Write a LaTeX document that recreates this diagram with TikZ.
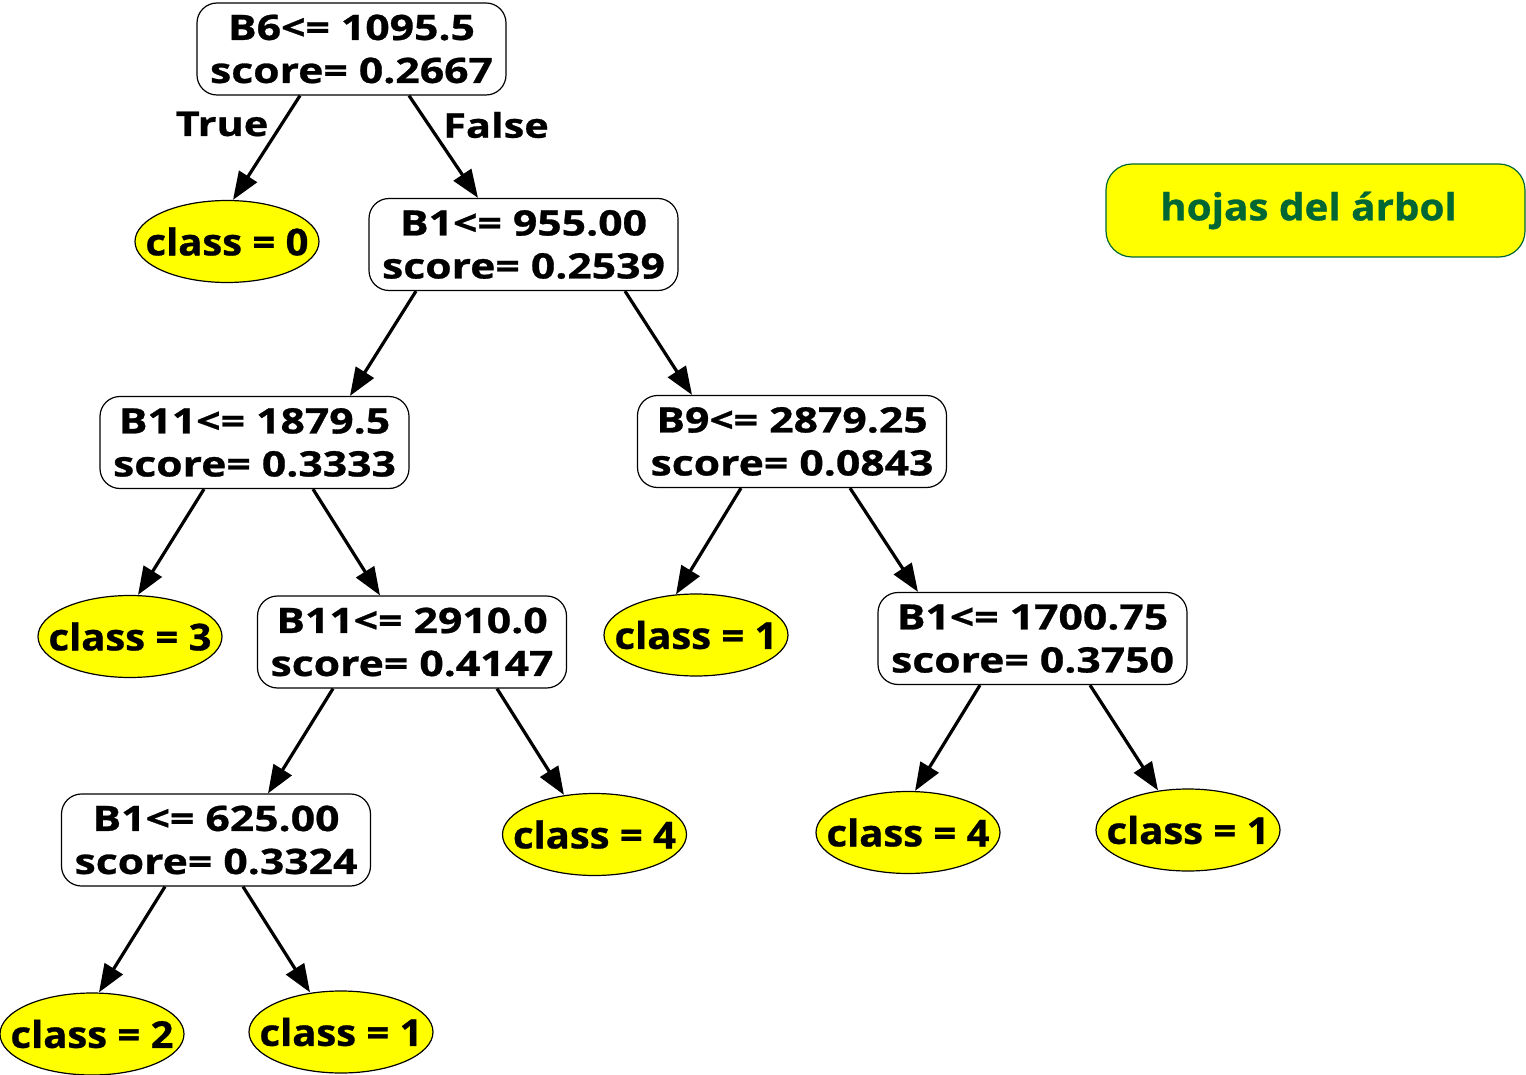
\documentclass[tikz,border=0pt]{standalone}
\usepackage{fontspec}
\usetikzlibrary{shapes.geometric,arrows.meta,calc}
\newfontfamily\boxfont[FakeStretch=1.22,FakeBold=0.8]{Open Sans}
\newfontfamily\ellfont[FakeStretch=1.08,FakeBold=0.8]{Open Sans}
\definecolor{leafyellow}{HTML}{FFFF00}
\definecolor{leafgreen}{HTML}{006633}
\tikzset{
  splitbox/.style={draw=black, line width=0.6pt, rounded corners=10pt, fill=white,
    minimum width=154.5pt, minimum height=46pt, inner sep=0pt, align=center,
    font=\boxfont\bfseries\fontsize{17.5}{21.5}\selectfont},
  leaf/.style={ellipse, draw=black, line width=0.6pt, fill=leafyellow,
    minimum width=92pt, minimum height=41pt, inner sep=0pt,
    font=\ellfont\bfseries\fontsize{18.5}{22}\selectfont},
  legendbox/.style={draw=leafgreen, line width=0.6pt, rounded corners=13pt, fill=leafyellow,
    minimum width=209.5pt, minimum height=46.5pt, inner sep=0pt, text=leafgreen,
    font=\ellfont\bfseries\fontsize{18.7}{22}\selectfont},
  edgelabel/.style={inner sep=0pt, font=\boxfont\bfseries\fontsize{17}{21}\selectfont},
  treeedge/.style={line width=1.6pt, -{Triangle[length=14pt,width=10.5pt]}}
}
\newcommand{\leaftext}[1]{\makebox[0pt][c]{#1}}
\begin{document}
\begin{tikzpicture}[x=0.5pt,y=-0.5pt]
\useasboundingbox (0,0) rectangle (1526,1075);
% decision nodes
\node[splitbox] (root) at (351.5,49)  {B6<= 1095.5\\score= 0.2667};
\node[splitbox] (n1)   at (523.5,244.5) {B1<= 955.00\\score= 0.2539};
\node[splitbox] (n2)   at (254.5,442.5) {B11<= 1879.5\\score= 0.3333};
\node[splitbox] (n3)   at (792,441.5)   {B9<= 2879.25\\score= 0.0843};
\node[splitbox] (n4)   at (412,642)     {B11<= 2910.0\\score= 0.4147};
\node[splitbox] (n5)   at (1032.5,638.5) {B1<= 1700.75\\score= 0.3750};
\node[splitbox] (n6)   at (216,840)     {B1<= 625.00\\score= 0.3324};
% leaves
\node[leaf] (c0)  at (227,241.5) {\leaftext{class = 0}};
\node[leaf] (c3)  at (130,636.5) {\leaftext{class = 3}};
\node[leaf] (c1a) at (696,635)   {\leaftext{class = 1}};
\node[leaf] (c4a) at (594.5,834.5) {\leaftext{class = 4}};
\node[leaf] (c4b) at (908,832.5) {\leaftext{class = 4}};
\node[leaf] (c1b) at (1188,830)  {\leaftext{class = 1}};
\node[leaf] (c2)  at (92,1034)   {\leaftext{class = 2}};
\node[leaf] (c1c) at (341,1032)  {\leaftext{class = 1}};
% legend
\node[legendbox] (leg) at (1315.5,210.5) {\makebox[0pt][c]{\kern-7pt\raisebox{2pt}{hojas del árbol}}};
% edge labels
\node[edgelabel] (lt) at (222,124) {True};
\node[edgelabel] (lf) at (496,125) {False};
% edges
\draw[treeedge] ($(root.south)+(-51.5,0)$) -- ($(c0.north)+(6,0)$);
\draw[treeedge] ($(root.south)+(57.5,0)$) -- ($(n1.north)+(-45.5,0)$);
\draw[treeedge] ($(n1.south)+(-107.5,0)$) -- ($(n2.north)+(95.5,0)$);
\draw[treeedge] ($(n1.south)+(101.5,0)$) -- ($(n3.north)+(-100,0)$);
\draw[treeedge] ($(n2.south)+(-50.5,0)$) -- ($(c3.north)+(8,0)$);
\draw[treeedge] ($(n2.south)+(58.5,0)$) -- ($(n4.north)+(-32,0)$);
\draw[treeedge] ($(n3.south)+(-51,0)$) -- ($(c1a.north)+(-20,1)$);
\draw[treeedge] ($(n3.south)+(58,0)$) -- ($(n5.north)+(-114.5,0)$);
\draw[treeedge] ($(n4.south)+(-79,0)$) -- ($(n6.north)+(52,0)$);
\draw[treeedge] ($(n4.south)+(85,0)$) -- ($(c4a.north)+(-30.5,2)$);
\draw[treeedge] ($(n5.south)+(-52.5,0)$) -- ($(c4b.north)+(7,0)$);
\draw[treeedge] ($(n5.south)+(57.5,0)$) -- ($(c1b.north)+(-30,2)$);
\draw[treeedge] ($(n6.south)+(-51,0)$) -- ($(c2.north)+(7,0)$);
\draw[treeedge] ($(n6.south)+(27,0)$) -- ($(c1c.north)+(-31,2)$);
\end{tikzpicture}
\end{document}
